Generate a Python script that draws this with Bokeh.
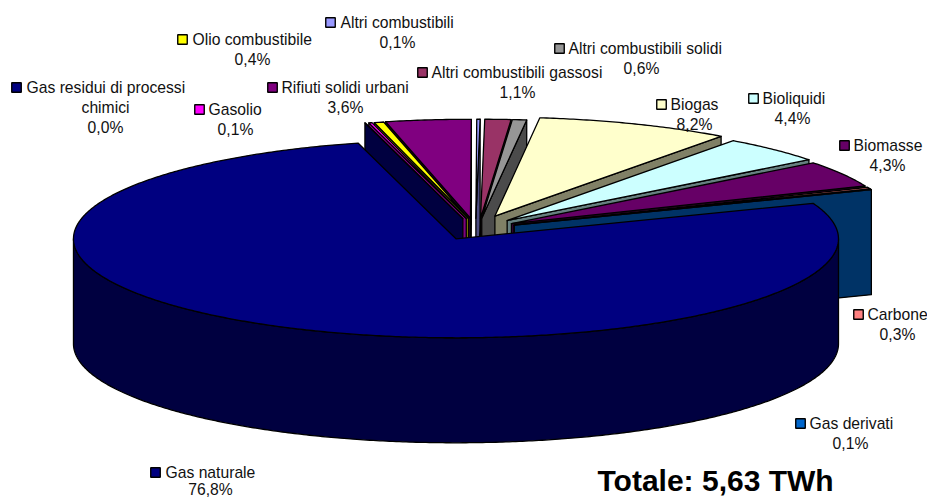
import math
from bokeh.plotting import figure
from bokeh.models import Range1d, ColumnDataSource
from bokeh.core.properties import value
from bokeh.embed import file_html
from bokeh.resources import INLINE

# ---- data (clockwise, starting with the big slice)
categories = ["Gas naturale", "Gas residui di processi chimici", "Gasolio", "Olio combustibile",
              "Rifiuti solidi urbani", "Altri combustibili", "Altri combustibili gassosi",
              "Altri combustibili solidi", "Biogas", "Bioliquidi", "Biomasse", "Carbone", "Gas derivati"]
shares = [76.75, 0.02, 0.14, 0.4, 3.6, 0.14, 1.1, 0.6, 8.2, 4.4, 4.3, 0.3, 0.1]
share_labels = ["76,8%", "0,0%", "0,1%", "0,4%", "3,6%", "0,1%", "1,1%", "0,6%", "8,2%", "4,4%", "4,3%", "0,3%", "0,1%"]
top_colors = ["#000080", "#000080", "#FF00FF", "#FFFF00", "#800080", "#9999FF", "#993366",
              "#969696", "#FFFFCC", "#CCFFFF", "#660066", "#FF8080", "#0066CC"]
side_colors = ["#000040", "#000040", "#800080", "#808000", "#400040", "#4D4D80", "#4D1A33",
               "#4B4B4B", "#808066", "#668080", "#330033", "#804040", "#003366"]
explode = [42, 42, 42, 42, 42, 42, 42, 42, 54, 46, 42, 42, 42]
nudge_x = [0, -1.5, 1.7, 3.3, 0, 0.5, 3.5, 2.5, 0, 0, 0, 0, 0]

# ---- layout (reference pixels)
CX, CY = 474.6, 228.6
A, B = 382.5, 99.0
DEPTH = 105.0
FIRST_ANGLE = 21.0
# name -> (legend key x, first line y, text x, centre x of the following lines)
label_layout = {
    "Gas naturale": (155, 472, 165, 210),
    "Gas residui di processi chimici": (16, 87, 26, 105),
    "Gasolio": (199, 109, 208, 235),
    "Olio combustibile": (182, 39, 192, 252),
    "Rifiuti solidi urbani": (272, 87, 281, 345),
    "Altri combustibili": (330, 22, 340, 397),
    "Altri combustibili gassosi": (422, 72, 431, 517),
    "Altri combustibili solidi": (559, 48, 568, 641),
    "Biogas": (661, 104, 670, 694),
    "Bioliquidi": (753, 98, 762, 792),
    "Biomasse": (844, 145, 853, 887),
    "Carbone": (858, 314, 867, 897),
    "Gas derivati": (800, 423, 809, 850),
}
FONT = value("Liberation Sans")
FS = value("15.7px")

p = figure(width=927, height=499, x_range=Range1d(0, 927), y_range=Range1d(499, 0),
           output_backend="svg", toolbar_location=None, min_border=0)
p.axis.visible = False
p.grid.visible = False
p.outline_line_color = None


def rim(cx, cy, t, dz=0.0):
    r = math.radians(t)
    return cx + A * math.cos(r), cy - B * math.sin(r) + dz


def arc(cx, cy, t0, t1, dz=0.0):
    n = max(2, int(abs(t1 - t0)) * 2)
    return [rim(cx, cy, t0 + (t1 - t0) * i / n, dz) for i in range(n + 1)]


total = sum(shares)
slices = []
start = FIRST_ANGLE
for i, v in enumerate(shares):
    sweep = 360.0 * v / total
    end = start - sweep
    mid = math.radians((start + end) / 2)
    cx = CX + explode[i] * math.cos(mid) + nudge_x[i]
    cy = CY - explode[i] * B / A * math.sin(mid)
    back_dist = abs((((start + end) / 2 + 90) % 360) - 180)
    slices.append(dict(i=i, start=start, end=end, cx=cx, cy=cy, back=back_dist))
    start = end

# painter's order: those nearest the back (90 degrees) first, big slice last
order = sorted(slices[1:], key=lambda s: s["back"]) + [slices[0]]

xs, ys, fills = [], [], []


def add(poly, color):
    xs.append([q[0] for q in poly])
    ys.append([q[1] for q in poly])
    fills.append(color)


for s in order:
    i, cx, cy = s["i"], s["cx"], s["cy"]
    side = side_colors[i]
    for t, visible in ((s["start"], math.cos(math.radians(s["start"])) < 0),
                       (s["end"], math.cos(math.radians(s["end"])) > 0)):
        if visible:
            q = rim(cx, cy, t)
            add([(cx, cy), q, (q[0], q[1] + DEPTH), (cx, cy + DEPTH)], side)
    lo, hi = max(s["end"], -180), min(s["start"], 0)
    if hi > lo:
        add(arc(cx, cy, lo, hi) + arc(cx, cy, hi, lo, DEPTH), side)
    if shares[i] > 0:
        add([(cx, cy)] + arc(cx, cy, s["start"], s["end"]), top_colors[i])

p.patches(xs="xs", ys="ys", fill_color="fills", line_color="black", line_width=1.3, line_join="round",
          source=ColumnDataSource(dict(xs=xs, ys=ys, fills=fills)))

# labels with legend keys
key_x, key_y, key_c = [], [], []
tx, ty, tt, ta = [], [], [], []
for i, name in enumerate(categories):
    kx, ky, txt_x, cx_lines = label_layout[name]
    key_x.append(kx); key_y.append(ky); key_c.append(top_colors[i])
    if name.endswith(" chimici"):
        tx.append(txt_x); ty.append(ky); tt.append("Gas residui di processi"); ta.append("left")
        tx.append(cx_lines); ty.append(ky + 20); tt.append("chimici"); ta.append("center")
        tx.append(cx_lines); ty.append(ky + 40); tt.append(share_labels[i]); ta.append("center")
    else:
        tx.append(txt_x); ty.append(ky); tt.append(name); ta.append("left")
        tx.append(cx_lines); ty.append(min(ky + 20, 489)); tt.append(share_labels[i]); ta.append("center")

p.rect(x=key_x, y=key_y, width=9.5, height=9.5, fill_color=key_c, line_color="black", line_width=1.4)
p.text(x=tx, y=ty, text=tt, text_align=ta, text_baseline="middle",
       text_font=FONT, text_font_size=FS, text_color="#111111")
p.text(x=[597], y=[480], text=["Totale: 5,63 TWh"], text_align="left", text_baseline="middle",
       text_font=FONT, text_font_size=value("30px"), text_font_style="bold", text_color="black")

open("out.html", "w").write(file_html(p, INLINE))
